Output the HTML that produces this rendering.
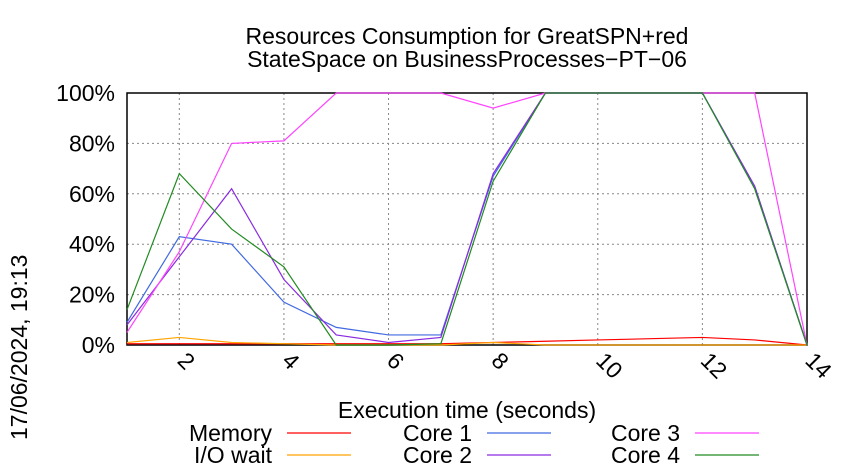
<!DOCTYPE html>
<html><head><meta charset="utf-8"><style>
body{margin:0;background:#fff;}
svg{display:block;font-family:"Liberation Sans",sans-serif;}
</style></head><body>
<svg id="chart" width="850" height="475">
<text x="467" y="44" text-anchor="middle" font-size="23">Resources Consumption for GreatSPN+red</text>
<text x="467" y="67" text-anchor="middle" font-size="23">StateSpace on BusinessProcesses−PT−06</text>
<text transform="translate(27,440) rotate(-90)" font-size="23">17/06/2024, 19:13</text>
<text x="467" y="418" text-anchor="middle" font-size="23">Execution time (seconds)</text>
<g id="grid"></g><g id="series"></g><g id="legend"></g>
</svg>
<script>
const xValues=[1,2,3,4,5,6,7,8,9,10,11,12,13,14];
const memory=[0.5,0.5,0.5,0.5,0.5,0.5,0.5,1,1.5,2,2.5,3,2,0];
const ioWait=[1,3,1,0.5,0,0,0,1,0,0,0,0,0,0];
const core1=[9,43,40,17,7,4,4,67,100,100,100,100,63,0];
const core2=[8,35,62,26,4,1,3,68,100,100,100,100,63,0];
const core3=[5,37,80,81,100,100,100,94,100,100,100,100,100,0];
const core4=[14,68,46,31,0,0,0.5,65,100,100,100,100,62,0];
const yTicks=[0,20,40,60,80,100];
const xTicks=[2,4,6,8,10,12,14];
const NS="http://www.w3.org/2000/svg";
const L=127,R=807,T=93,B=345;
const xs=v=>L+(v-1)/(13)*(R-L);
const ys=v=>B-v/100*(B-T);
function mk(t,a,p){const e=document.createElementNS(NS,t);for(const k in a)e.setAttribute(k,a[k]);p.appendChild(e);return e;}
const g=document.getElementById('grid');
yTicks.forEach(v=>{
  const l=mk('line',{x1:L,x2:R,y1:ys(v),y2:ys(v),stroke:'#888','stroke-dasharray':'2,3','stroke-width':1},g);
  
  
  const t=mk('text',{x:115,y:ys(v)+8,'text-anchor':'end','font-size':23},g);
  
  
  t.textContent=v+'%';
});
xTicks.forEach(v=>{
  const l=mk('line',{x1:xs(v),x2:xs(v),y1:T,y2:B,stroke:'#888','stroke-dasharray':'2,3','stroke-width':1},g);
  
  
  const t=mk('text',{transform:`translate(${xs(v)-3},${362}) rotate(45)`,'font-size':23},g);
  
  
  t.textContent=v;
});
const fr=mk('rect',{x:L,y:T,width:R-L,height:B-T,fill:'none',stroke:'#000','stroke-width':1.5},g);


const S=document.getElementById('series');
const series=[['memory',memory,'#ff0000'],['io-wait',ioWait,'#ffa500'],['core-1',core1,'#4169e1'],['core-2',core2,'#8a2be2'],['core-3',core3,'#ff44ff'],['core-4',core4,'#228b22']];
series.forEach(([n,d,c])=>{
  const p=mk('polyline',{points:d.map((v,i)=>xs(xValues[i])+','+ys(v)).join(' '),fill:'none',stroke:c,'stroke-width':1.2},S);
  
  
});
const Lg=document.getElementById('legend');
const legendLabels=['Memory','I/O wait','Core 1','Core 2','Core 3','Core 4'];
legendLabels.forEach((lab,i)=>{
  const col=Math.floor(i/2),row=i%2;
  const tx=[272,472,680][col],lx=[287,487,695][col],y=[433,455][row];
  const t=mk('text',{x:tx,y:y+8,'text-anchor':'end','font-size':23},Lg);
  
  
  t.textContent=lab;
  const l=mk('line',{x1:lx,x2:lx+64,y1:y,y2:y,stroke:series[i][2],'stroke-width':1.2},Lg);
  
  
});
</script>
</body></html>
